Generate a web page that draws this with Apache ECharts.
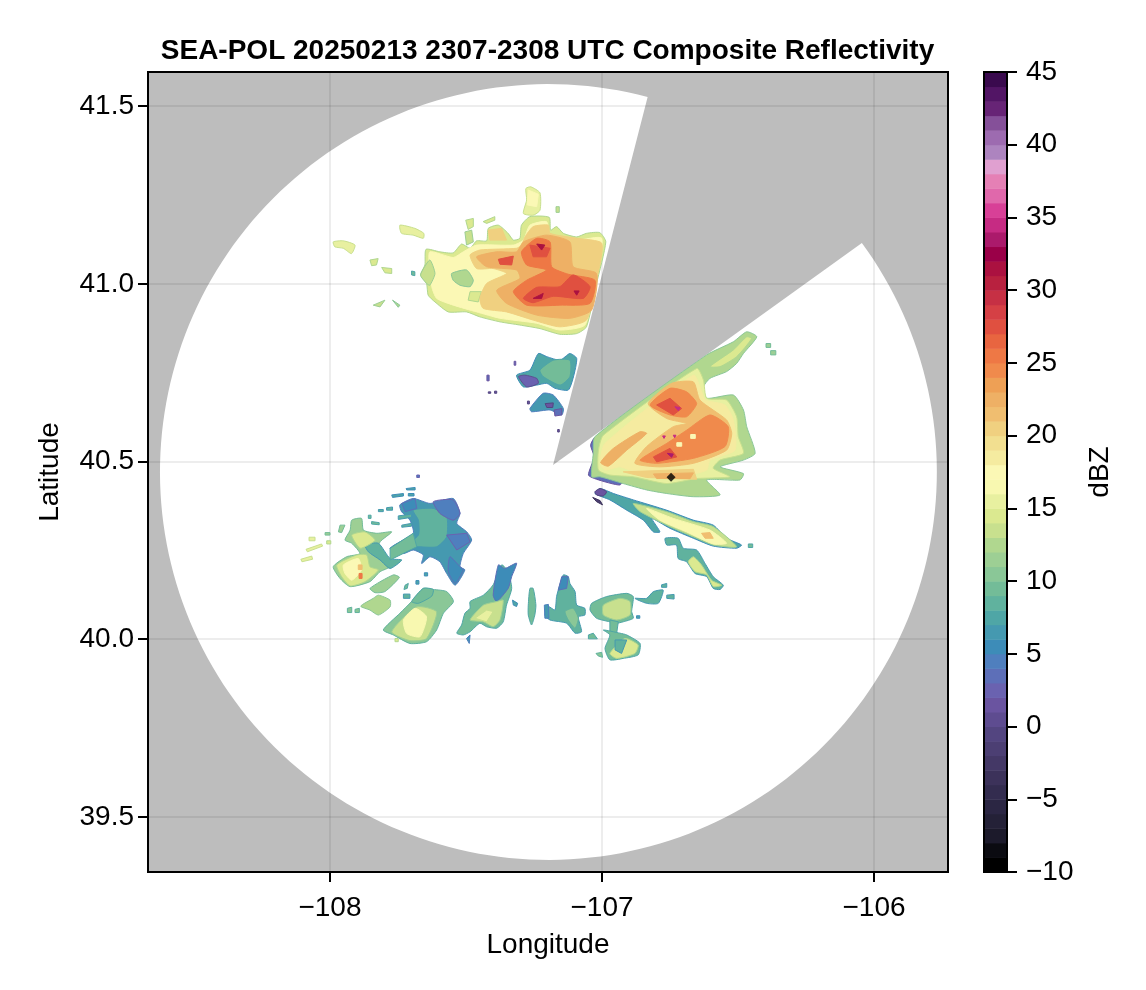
<!DOCTYPE html>
<html><head><meta charset="utf-8"><style>html,body{margin:0;padding:0;background:#fff}#c{width:1146px;height:990px}</style>
<script src="https://cdn.jsdelivr.net/npm/echarts@6/dist/echarts.min.js"></script></head><body><div id="c"></div>
<script>
const titleText='SEA-POL 20250213 2307-2308 UTC Composite Reflectivity';
const lonTicks=[-108,-107,-106];
const latTicks=[39.5,40,40.5,41,41.5];
const dbzTicks=[-10,-5,0,5,10,15,20,25,30,35,40,45];
const radarCenter=[-107.197,40.4705];
const radarReach=[1.428,1.0914];
const wedgeApex=[-107.18,40.49];
const wedgeAngles=[75.2,396.6];
const sitePoint=[[-106.746,40.456]];
const dbzLevels=[-10,-9,-8,-7,-6,-5,-4,-3,-2,-1,0,1,2,3,4,5,6,7,8,9,10,11,12,13,14,15,16,17,18,19,20,21,22,23,24,25,26,27,28,29,30,31,32,33,34,35,36,37,38,39,40,41,42,43,44];
const barColors=['#000000','#0b0b11','#1c1a2b','#242137','#2b2643','#332c4f','#3c325a','#443866','#4c3f73','#534580','#5e4c90','#6a54a0','#6a62b0','#5d6fb8','#4f7fbe','#3d8cb8','#4599b0','#4fa6a6','#60b29e','#73bc98','#8ac797','#9dcf94','#b0d78f','#c8e08e','#dbe990','#e8f0a0','#f8f8b0','#fbf8b5','#f5eba0','#f2df90','#f0d080','#f0be70','#eeb065','#eea055','#f08a4c','#ee7845','#e86540','#e05040','#d54045','#c63044','#b8213f','#ab1140','#9a0048','#ab1a6b','#c62b83','#d84097','#e068ab','#e580b5','#e0a0d0','#ad84bf','#9d6bb0','#855099','#672476','#521565','#3a0a4e'];

const northEcho=[
[14,[-107.647,41.097,-107.596,41.090,-107.547,41.087,-107.516,41.112,-107.485,41.100,-107.461,41.121,-107.424,41.121,-107.418,41.156,-107.381,41.165,-107.345,41.142,-107.326,41.123,-107.302,41.128,-107.296,41.165,-107.265,41.189,-107.194,41.187,-107.189,41.151,-107.167,41.161,-107.142,41.142,-107.093,41.132,-107.057,41.142,-107.008,41.144,-106.986,41.118,-107.020,41.001,-107.057,40.879,-107.093,40.860,-107.155,40.858,-107.228,40.874,-107.302,40.884,-107.375,40.893,-107.449,40.907,-107.498,40.921,-107.565,40.921,-107.614,40.949,-107.639,40.968,-107.645,41.001,-107.667,41.025,-107.651,41.053]],
[17.5,[-107.633,41.090,-107.547,41.074,-107.510,41.090,-107.461,41.109,-107.326,41.109,-107.289,41.123,-107.265,41.165,-107.204,41.175,-107.191,41.137,-107.093,41.123,-107.001,41.128,-107.026,41.001,-107.063,40.884,-107.155,40.870,-107.240,40.889,-107.375,40.903,-107.461,40.921,-107.547,40.940,-107.608,40.959,-107.626,40.992,-107.633,41.039]],
[12.5,[-107.553,41.029,-107.498,41.039,-107.473,41.010,-107.485,40.992,-107.522,40.996,-107.547,41.010]],
[14,[-107.485,40.978,-107.443,40.978,-107.455,40.949,-107.492,40.954]],
[13,[-107.667,41.025,-107.633,41.067,-107.614,41.029,-107.633,40.996,-107.645,41.001]],
[20,[-107.485,41.081,-107.449,41.095,-107.314,41.100,-107.296,41.109,-107.283,41.132,-107.253,41.161,-107.197,41.165,-107.191,41.142,-107.093,41.128,-107.001,41.114,-107.020,41.010,-107.057,40.898,-107.155,40.879,-107.253,40.898,-107.351,40.921,-107.437,40.931,-107.449,40.959,-107.424,41.001,-107.351,41.029,-107.400,41.043,-107.461,41.043]],
[20,[-107.418,41.151,-107.369,41.156,-107.351,41.123,-107.412,41.123]],
[22.5,[-107.461,41.076,-107.387,41.090,-107.314,41.090,-107.289,41.118,-107.204,41.137,-107.118,41.118,-107.106,41.048,-107.020,41.029,-107.038,40.926,-107.118,40.903,-107.240,40.912,-107.351,40.945,-107.387,40.982,-107.302,41.015,-107.314,41.039,-107.424,41.048]],
[25,[-107.296,41.090,-107.240,41.128,-107.191,41.118,-107.185,41.048,-107.124,41.027,-107.026,41.010,-107.044,40.945,-107.155,40.940,-107.277,40.940,-107.326,40.978,-107.277,41.010,-107.204,41.039,-107.277,41.053]],
[27,[-107.381,41.069,-107.326,41.078,-107.332,41.053,-107.375,41.055]],
[27.5,[-107.265,41.109,-107.191,41.100,-107.204,41.076,-107.253,41.076]],
[27,[-107.289,40.959,-107.240,40.990,-107.155,40.992,-107.106,41.025,-107.044,40.992,-107.069,40.959,-107.179,40.965,-107.253,40.947]],
[31,[-107.253,40.959,-107.216,40.973,-107.222,40.959]],
[31,[-107.240,41.112,-107.210,41.109,-107.222,41.095]],
[31,[-107.103,40.980,-107.084,40.980,-107.093,40.968]],
[15,[-107.280,41.268,-107.262,41.273,-107.228,41.256,-107.228,41.207,-107.253,41.193,-107.289,41.198,-107.277,41.236]],
[17,[-107.271,41.264,-107.234,41.252,-107.240,41.217,-107.275,41.222]],
[15,[-107.988,41.118,-107.951,41.121,-107.908,41.109,-107.921,41.085,-107.951,41.100,-107.982,41.104]],
[15.5,[-107.743,41.165,-107.688,41.156,-107.655,41.142,-107.657,41.128,-107.694,41.137,-107.737,41.142]],
[14,[-107.853,41.067,-107.823,41.071,-107.829,41.053,-107.847,41.051]],
[14,[-107.810,41.046,-107.773,41.043,-107.773,41.029,-107.798,41.031]],
[9.5,[-107.700,41.036,-107.688,41.034,-107.688,41.023,-107.700,41.025]],
[13,[-107.841,40.940,-107.798,40.954,-107.816,40.935]],
[12,[-107.770,40.954,-107.743,40.940,-107.749,40.934]],
[14,[-107.437,41.175,-107.394,41.189,-107.394,41.179,-107.424,41.170]],
[14,[-107.501,41.179,-107.473,41.184,-107.473,41.161,-107.492,41.153]],
[13,[-107.169,41.217,-107.157,41.217,-107.157,41.201,-107.169,41.201]],
[13,[-107.504,41.146,-107.479,41.151,-107.473,41.118,-107.498,41.109]]
];
const eastEcho=[
[3,[-107.026,40.568,-107.042,40.546,-107.029,40.513,-107.050,40.462,-107.020,40.450,-106.934,40.434,-106.922,40.457,-106.995,40.485,-107.007,40.542]],
[12,[-107.026,40.570,-106.615,40.800,-106.517,40.837,-106.468,40.865,-106.431,40.851,-106.480,40.804,-106.505,40.776,-106.542,40.753,-106.603,40.734,-106.627,40.710,-106.615,40.678,-106.517,40.687,-106.480,40.645,-106.468,40.598,-106.437,40.523,-106.480,40.504,-106.566,40.485,-106.480,40.466,-106.493,40.448,-106.615,40.448,-106.566,40.406,-106.664,40.401,-106.762,40.410,-106.836,40.420,-106.922,40.438,-107.007,40.457,-107.038,40.457,-107.032,40.523]],
[15,[-106.995,40.574,-106.652,40.762,-106.627,40.729,-106.615,40.678,-106.542,40.673,-106.505,40.626,-106.499,40.570,-106.480,40.523,-106.566,40.504,-106.591,40.481,-106.530,40.457,-106.652,40.452,-106.762,40.438,-106.885,40.457,-106.971,40.462,-107.013,40.476,-107.013,40.532]],
[14,[-106.603,40.767,-106.517,40.814,-106.468,40.851,-106.450,40.846,-106.505,40.795,-106.566,40.767]],
[18,[-106.989,40.551,-106.664,40.743,-106.633,40.696,-106.621,40.673,-106.548,40.659,-106.517,40.617,-106.511,40.532,-106.603,40.504,-106.615,40.476,-106.689,40.462,-106.860,40.466,-106.934,40.485,-106.989,40.476,-107.007,40.495]],
[22,[-107.005,40.497,-106.958,40.537,-106.860,40.584,-106.836,40.579,-106.909,40.532,-106.977,40.487]],
[21.5,[-106.830,40.663,-106.744,40.720,-106.664,40.724,-106.640,40.673,-106.542,40.617,-106.523,40.579,-106.542,40.532,-106.664,40.495,-106.787,40.485,-106.879,40.495,-106.836,40.542,-106.738,40.598,-106.689,40.607,-106.762,40.621]],
[24.5,[-106.823,40.659,-106.750,40.706,-106.689,40.696,-106.652,40.663,-106.689,40.626,-106.750,40.631]],
[24,[-106.860,40.504,-106.762,40.551,-106.689,40.588,-106.603,40.631,-106.536,40.598,-106.548,40.542,-106.664,40.509,-106.799,40.495]],
[27,[-106.799,40.659,-106.750,40.678,-106.707,40.649,-106.738,40.631]],
[27,[-106.811,40.513,-106.750,40.537,-106.725,40.513,-106.799,40.499]],
[34,[-106.732,40.654,-106.713,40.652,-106.719,40.643]],
[33,[-106.760,40.523,-106.738,40.521,-106.744,40.512]],
[34,[-106.777,40.572,-106.767,40.572,-106.772,40.565]],
[34,[-106.738,40.574,-106.728,40.574,-106.733,40.567]],
[17,[-106.725,40.553,-106.707,40.553,-106.707,40.543,-106.725,40.543]],
[17,[-106.674,40.576,-106.657,40.576,-106.657,40.565,-106.674,40.565]],
[20,[-106.922,40.471,-106.664,40.478,-106.652,40.450,-106.836,40.455]],
[22,[-106.811,40.465,-106.664,40.468,-106.676,40.452,-106.799,40.452]],
[11,[-106.397,40.832,-106.380,40.832,-106.380,40.821,-106.397,40.821]],
[11,[-106.380,40.812,-106.361,40.812,-106.361,40.800,-106.380,40.800]]
];
const midEcho=[
[7,[-107.314,40.743,-107.265,40.757,-107.234,40.804,-107.203,40.795,-107.154,40.785,-107.118,40.804,-107.093,40.790,-107.105,40.738,-107.124,40.701,-107.173,40.706,-107.203,40.720,-107.240,40.715,-107.289,40.710]],
[6,[-107.265,40.649,-107.216,40.692,-107.179,40.687,-107.142,40.649,-107.148,40.631,-107.191,40.645,-107.259,40.640]],
[9,[-107.228,40.757,-107.179,40.785,-107.118,40.785,-107.118,40.739,-107.154,40.715,-107.216,40.739]],
[2,[-107.307,40.739,-107.283,40.743,-107.240,40.734,-107.234,40.720,-107.277,40.710]],
[1,[-107.209,40.663,-107.179,40.665,-107.181,40.652,-107.203,40.652]],
[3,[-107.176,40.645,-107.148,40.649,-107.148,40.631,-107.173,40.628]],
[3,[-107.323,40.782,-107.317,40.782,-107.317,40.771,-107.323,40.771]],
[3,[-107.423,40.743,-107.415,40.743,-107.415,40.727,-107.423,40.727]],
[1,[-107.418,40.696,-107.409,40.696,-107.409,40.692,-107.418,40.692]],
[1,[-107.395,40.698,-107.387,40.698,-107.387,40.692,-107.395,40.692]],
[1,[-107.274,40.670,-107.267,40.670,-107.267,40.662,-107.274,40.662]],
[1,[-107.163,40.590,-107.157,40.590,-107.157,40.583,-107.163,40.583]]
];
const streakEcho=[
[7,[-107.026,40.410,-107.007,40.424,-106.958,40.410,-106.885,40.392,-106.762,40.363,-106.664,40.335,-106.591,40.321,-106.542,40.284,-106.487,40.265,-106.505,40.256,-106.591,40.262,-106.664,40.284,-106.750,40.312,-106.817,40.340,-106.787,40.302,-106.811,40.302,-106.848,40.335,-106.909,40.363,-106.971,40.392]],
[13,[-106.885,40.382,-106.762,40.359,-106.664,40.331,-106.591,40.317,-106.505,40.260,-106.591,40.265,-106.664,40.288,-106.762,40.321,-106.860,40.359]],
[16,[-106.836,40.368,-106.738,40.340,-106.603,40.307,-106.542,40.270,-106.591,40.268,-106.689,40.302,-106.787,40.335]],
[21,[-106.634,40.298,-106.603,40.300,-106.591,40.284,-106.621,40.284]],
[1,[-107.026,40.415,-107.007,40.424,-106.983,40.415,-106.995,40.403,-107.020,40.406]],
[-2,[-107.034,40.399,-107.007,40.390,-106.998,40.378,-107.020,40.387]],
[8.5,[-106.768,40.284,-106.720,40.284,-106.701,40.256,-106.652,40.251,-106.621,40.213,-106.591,40.176,-106.554,40.152,-106.566,40.140,-106.591,40.143,-106.615,40.176,-106.658,40.185,-106.689,40.218,-106.720,40.227,-106.726,40.265,-106.762,40.265]],
[14,[-106.664,40.232,-106.634,40.209,-106.597,40.166,-106.560,40.152,-106.591,40.148,-106.615,40.181,-106.658,40.190,-106.683,40.218]],
[9,[-106.462,40.268,-106.446,40.268,-106.446,40.258,-106.462,40.258]]
];
const westEcho=[
[6,[-107.743,40.378,-107.694,40.396,-107.632,40.382,-107.547,40.396,-107.522,40.354,-107.534,40.326,-107.497,40.302,-107.479,40.279,-107.510,40.241,-107.522,40.204,-107.504,40.195,-107.540,40.152,-107.571,40.185,-107.596,40.218,-107.632,40.232,-107.663,40.213,-107.657,40.237,-107.694,40.251,-107.730,40.241,-107.779,40.256,-107.694,40.298,-107.706,40.335,-107.737,40.359]],
[8.5,[-107.694,40.363,-107.620,40.368,-107.571,40.345,-107.571,40.288,-107.608,40.260,-107.681,40.260,-107.730,40.256,-107.675,40.293,-107.675,40.335]],
[4,[-107.620,40.387,-107.547,40.392,-107.522,40.354,-107.547,40.335,-107.596,40.354]],
[4,[-107.571,40.293,-107.497,40.298,-107.485,40.274,-107.534,40.251]],
[5,[-107.559,40.232,-107.522,40.204,-107.510,40.195,-107.540,40.157,-107.565,40.190]],
[5,[-107.736,40.382,-107.687,40.396,-107.681,40.368,-107.724,40.359]],
[7,[-107.773,40.406,-107.730,40.410,-107.730,40.403,-107.770,40.399]],
[7,[-107.720,40.424,-107.687,40.427,-107.687,40.420,-107.718,40.420]],
[7,[-107.712,40.410,-107.691,40.410,-107.691,40.403,-107.712,40.403]],
[4,[-107.681,40.462,-107.671,40.462,-107.671,40.455,-107.681,40.455]],
[8,[-107.822,40.365,-107.804,40.365,-107.804,40.359,-107.822,40.359]],
[8,[-107.792,40.370,-107.770,40.372,-107.770,40.363,-107.792,40.363]],
[9,[-107.859,40.349,-107.849,40.349,-107.849,40.340,-107.859,40.340]],
[9,[-107.847,40.331,-107.819,40.328,-107.819,40.322,-107.847,40.324]],
[8,[-107.749,40.347,-107.700,40.352,-107.700,40.343,-107.749,40.337]],
[8,[-107.736,40.321,-107.700,40.326,-107.700,40.318,-107.736,40.315]],
[15,[-108.077,40.287,-108.055,40.287,-108.055,40.277,-108.077,40.277]],
[15,[-108.088,40.253,-108.031,40.268,-108.027,40.262,-108.083,40.246]],
[15,[-108.107,40.225,-108.067,40.234,-108.064,40.225,-108.103,40.218]],
[11,[-108.018,40.300,-108.000,40.300,-108.000,40.293,-108.018,40.293]],
[14,[-108.012,40.277,-107.997,40.277,-107.997,40.268,-108.012,40.268]],
[11,[-107.963,40.321,-107.945,40.321,-107.957,40.300,-107.969,40.302]],
[11,[-107.920,40.335,-107.884,40.340,-107.877,40.307,-107.828,40.298,-107.773,40.302,-107.816,40.274,-107.822,40.251,-107.798,40.223,-107.779,40.204,-107.816,40.190,-107.853,40.162,-107.926,40.148,-107.963,40.171,-107.988,40.204,-107.939,40.232,-107.890,40.241,-107.920,40.270,-107.945,40.279,-107.926,40.307]],
[8.5,[-107.871,40.265,-107.822,40.270,-107.779,40.227,-107.736,40.223,-107.779,40.199,-107.816,40.223,-107.859,40.246]],
[9,[-107.779,40.256,-107.694,40.298,-107.681,40.260,-107.779,40.223]],
[14,[-107.920,40.293,-107.871,40.302,-107.834,40.279,-107.859,40.265,-107.890,40.256]],
[14,[-107.975,40.209,-107.902,40.237,-107.865,40.237,-107.853,40.204,-107.822,40.195,-107.871,40.162,-107.926,40.150,-107.957,40.176]],
[17,[-107.951,40.209,-107.896,40.227,-107.884,40.195,-107.920,40.166,-107.945,40.185]],
[25,[-107.893,40.185,-107.882,40.185,-107.882,40.171,-107.893,40.171]],
[21,[-107.896,40.209,-107.882,40.209,-107.882,40.196,-107.896,40.196]],
[11.5,[-107.853,40.143,-107.767,40.181,-107.745,40.174,-107.798,40.134,-107.834,40.131]],
[12.5,[-107.887,40.093,-107.841,40.115,-107.822,40.124,-107.779,40.110,-107.779,40.091,-107.822,40.068,-107.853,40.082]],
[10,[-107.936,40.087,-107.920,40.090,-107.920,40.075,-107.936,40.075]],
[10,[-107.908,40.084,-107.892,40.087,-107.892,40.075,-107.908,40.075]],
[8,[-107.730,40.127,-107.706,40.127,-107.706,40.115,-107.730,40.115]],
[9,[-107.724,40.152,-107.712,40.157,-107.716,40.143,-107.728,40.140]],
[10.5,[-107.804,40.026,-107.743,40.073,-107.700,40.106,-107.657,40.143,-107.620,40.140,-107.571,40.134,-107.546,40.106,-107.583,40.073,-107.608,40.026,-107.645,39.993,-107.706,39.988,-107.767,40.012]],
[9,[-107.700,40.106,-107.657,40.143,-107.620,40.140,-107.626,40.121,-107.675,40.101]],
[13.5,[-107.773,40.021,-107.681,40.091,-107.608,40.077,-107.645,40.002,-107.706,39.996]],
[16.5,[-107.730,40.054,-107.687,40.087,-107.645,40.063,-107.669,40.007,-107.718,40.016]],
[14,[-107.761,40.002,-107.749,40.002,-107.749,39.993,-107.761,39.993]],
[7,[-107.684,40.165,-107.673,40.165,-107.673,40.155,-107.684,40.155]],
[7,[-107.653,40.187,-107.641,40.187,-107.641,40.178,-107.653,40.178]]
];
const southEcho=[
[9.5,[-107.485,40.106,-107.436,40.124,-107.400,40.153,-107.369,40.209,-107.345,40.190,-107.332,40.143,-107.351,40.096,-107.363,40.049,-107.387,40.031,-107.424,40.035,-107.449,40.045,-107.485,40.021,-107.510,40.012,-107.534,40.017,-107.516,40.040,-107.504,40.073,-107.485,40.087]],
[5,[-107.381,40.209,-107.357,40.199,-107.314,40.214,-107.332,40.176,-107.345,40.143,-107.387,40.106,-107.400,40.124]],
[13.5,[-107.485,40.054,-107.436,40.096,-107.387,40.106,-107.363,40.110,-107.375,40.054,-107.400,40.035,-107.436,40.049]],
[15.5,[-107.467,40.059,-107.424,40.082,-107.400,40.078,-107.424,40.049]],
[6,[-107.498,40.002,-107.485,40.012,-107.488,39.988]],
[7,[-107.329,40.110,-107.310,40.101,-107.314,40.092,-107.326,40.096]],
[9,[-107.265,40.143,-107.253,40.143,-107.243,40.096,-107.247,40.068,-107.259,40.040,-107.271,40.068,-107.271,40.096]],
[8,[-107.142,40.181,-107.124,40.176,-107.118,40.157,-107.099,40.134,-107.093,40.096,-107.063,40.087,-107.063,40.068,-107.087,40.063,-107.075,40.021,-107.099,40.017,-107.130,40.045,-107.191,40.054,-107.210,40.068,-107.197,40.092,-107.173,40.082,-107.167,40.120,-107.155,40.153]],
[5,[-107.148,40.176,-107.124,40.176,-107.130,40.143,-107.161,40.138]],
[10.5,[-107.136,40.078,-107.106,40.087,-107.087,40.059,-107.099,40.031,-107.124,40.054]],
[9,[-107.038,40.101,-106.983,40.120,-106.909,40.129,-106.885,40.120,-106.891,40.078,-106.885,40.059,-106.922,40.049,-106.946,40.045,-106.971,40.049,-107.020,40.059,-107.044,40.082]],
[13,[-106.995,40.096,-106.934,40.115,-106.897,40.106,-106.897,40.068,-106.946,40.054,-106.995,40.068]],
[8,[-106.879,40.115,-106.836,40.115,-106.811,40.134,-106.775,40.138,-106.793,40.101,-106.836,40.101]],
[9,[-106.971,40.054,-106.940,40.049,-106.946,40.017,-106.971,40.021]],
[9.5,[-106.995,40.026,-106.934,40.017,-106.909,40.012,-106.860,39.988,-106.867,39.956,-106.922,39.946,-106.971,39.942,-106.989,39.974,-106.971,40.012]],
[14,[-106.971,39.960,-106.916,40.002,-106.867,39.984,-106.879,39.960,-106.946,39.946]],
[8.5,[-106.952,39.998,-106.909,39.998,-106.928,39.960,-106.952,39.970]],
[9,[-107.050,40.012,-107.032,40.017,-107.017,40.001,-107.050,40.001]],
[10,[-107.022,39.960,-107.001,39.963,-106.998,39.949,-107.014,39.953]],
[8,[-106.781,40.153,-106.762,40.157,-106.762,40.146,-106.781,40.146]],
[8,[-106.762,40.124,-106.735,40.126,-106.735,40.113,-106.762,40.115]],
[6,[-107.212,40.096,-107.197,40.098,-107.195,40.059,-107.210,40.059]],
[7,[-106.873,40.066,-106.861,40.066,-106.861,40.059,-106.873,40.059]]
];
const echoLayers=[...eastEcho,...northEcho,...midEcho,...streakEcho,...westEcho,...southEcho];
const colorOf=v=>barColors[Math.max(0,Math.min(54,Math.floor(v)+10))];
const font='"Liberation Sans"';
const minus=v=>String(v).replace('-','\u2212');

function renderCoverage(params,api){
  const pts=[api.coord(wedgeApex)];
  for(let a=wedgeAngles[0];a<=wedgeAngles[1];a+=1.5){
    const r=a*Math.PI/180;
    pts.push(api.coord([radarCenter[0]+radarReach[0]*Math.cos(r),radarCenter[1]+radarReach[1]*Math.sin(r)]));
  }
  return {type:'polygon',shape:{points:pts},style:{fill:'#ffffff'},silent:true};
}
function renderEcho(params,api){
  const layer=echoLayers[api.value(2)],v=layer[0],p=layer[1],pts=[];
  for(let i=0;i<p.length;i+=2)pts.push(api.coord([p[i],p[i+1]]));
  return {type:'polygon',shape:{points:pts,smooth:p.length>8?0.2:0},style:{fill:colorOf(v),stroke:colorOf(v<=15.6?v-2:v),lineWidth:1},silent:true};
}
function renderBar(params,api){
  const lo=api.value(1),a=api.coord([0,lo]),b=api.coord([1,lo+1]);
  return {type:'rect',shape:{x:a[0],y:b[1],width:b[0]-a[0],height:a[1]-b[1]+0.5},style:{fill:colorOf(lo)},silent:true};
}
const lbl={color:'#000',fontFamily:font,fontSize:28};
const gridLine={show:true,lineStyle:{color:'rgba(0,0,0,0.07)',width:2}};
const tick={show:true,length:10,lineStyle:{color:'#000',width:2}};
const opt={animation:false,backgroundColor:'#fff',
 title:{text:titleText,left:542.5,top:32,textAlign:'center',textStyle:{fontFamily:font,fontSize:28,fontWeight:'bold',color:'#000'}},
 grid:[
  {left:148,top:72,width:800,height:800,show:true,backgroundColor:'#bdbdbd',borderColor:'#000',borderWidth:2},
  {left:984,top:72,width:23,height:800,show:true,backgroundColor:'transparent',borderColor:'#000',borderWidth:2,z:5}
 ],
 xAxis:[
  {gridIndex:0,type:'value',min:-108.669,max:-105.728,z:2,name:'Longitude',nameLocation:'middle',nameGap:59,nameTextStyle:lbl,
   axisLine:{show:false},axisTick:{...tick,customValues:lonTicks},
   axisLabel:{...lbl,margin:22,customValues:lonTicks,formatter:minus},
   splitLine:gridLine},
  {gridIndex:1,type:'value',min:0,max:1,show:false}
 ],
 yAxis:[
  {gridIndex:0,type:'value',min:39.345,max:41.596,z:2,name:'Latitude',nameLocation:'middle',nameGap:84,nameTextStyle:lbl,
   axisLine:{show:false},axisTick:{...tick,customValues:latTicks},
   axisLabel:{...lbl,margin:14,customValues:latTicks,padding:[3,0,0,0],formatter:v=>v.toFixed(1)},
   splitLine:gridLine},
  {gridIndex:1,type:'value',position:'right',min:-10,max:45,z:6,name:'dBZ',nameLocation:'middle',nameGap:79,nameRotate:90,nameTextStyle:lbl,
   axisLine:{show:false,onZero:false},axisTick:{...tick,customValues:dbzTicks},
   axisLabel:{...lbl,margin:19,customValues:dbzTicks,padding:[3,0,0,0],formatter:minus},splitLine:{show:false}}
 ],
 series:[
  {type:'custom',xAxisIndex:0,yAxisIndex:0,z:1,clip:true,silent:true,renderItem:renderCoverage,data:[[radarCenter[0],radarCenter[1]]],encode:{x:0,y:1}},
  {type:'custom',xAxisIndex:0,yAxisIndex:0,z:3,clip:true,silent:true,renderItem:renderEcho,encode:{x:0,y:1},
   data:echoLayers.map((l,i)=>[l[1][0],l[1][1],i])},
  {type:'scatter',xAxisIndex:0,yAxisIndex:0,z:4,symbol:'diamond',symbolSize:9,itemStyle:{color:'#000'},silent:true,data:sitePoint},
  {type:'custom',xAxisIndex:1,yAxisIndex:1,z:2,silent:true,renderItem:renderBar,encode:{x:0,y:1},data:dbzLevels.map(d=>[0,d])}
 ]};
echarts.init(document.getElementById('c'),null,{renderer:'canvas'}).setOption(opt);
</script></body></html>
